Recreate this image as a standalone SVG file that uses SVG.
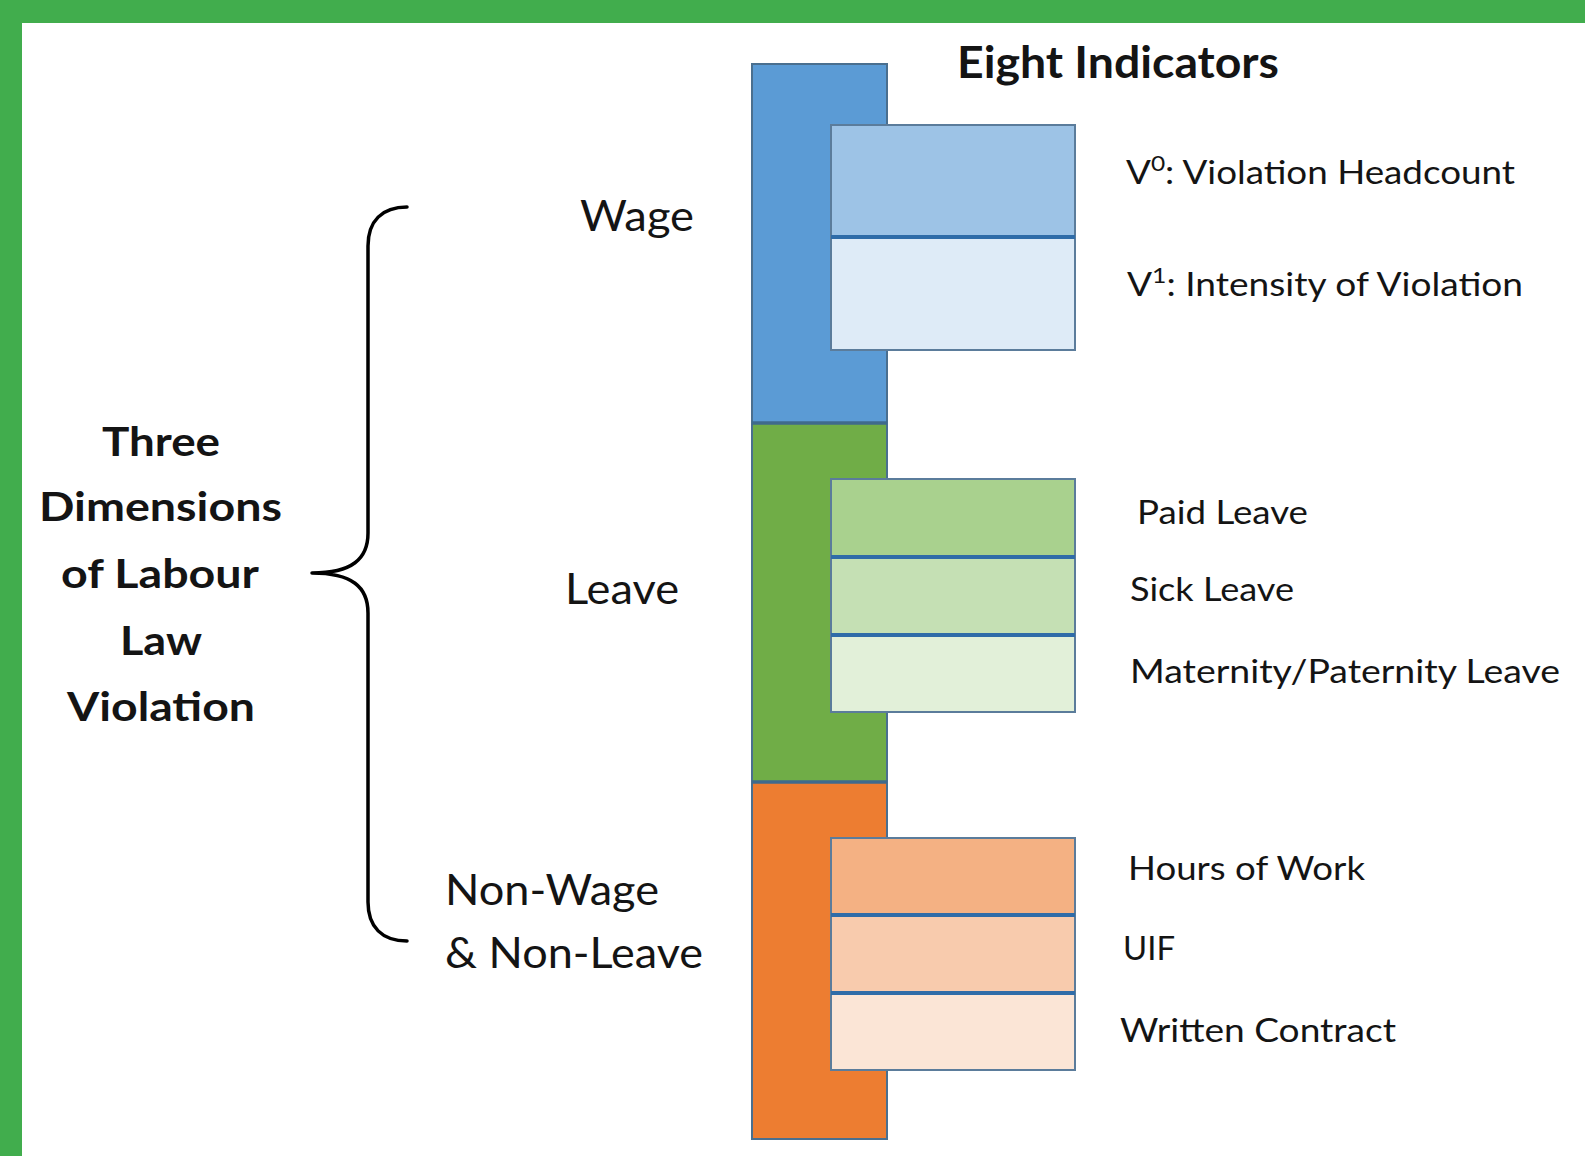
<svg xmlns="http://www.w3.org/2000/svg" width="1585" height="1156" viewBox="0 0 1585 1156">
  <style>
    .frame { fill: #41AD4D; }
    .page { fill: #FFFFFF; }
    .bar { stroke: #4A6F8F; stroke-width: 2; }
    .box { stroke: #5B7C9B; stroke-width: 2; }
    .divider { stroke: #2F6CA8; stroke-width: 4; }
    .seam { stroke: #3F6A8C; stroke-width: 3.5; }
    .brace { fill: none; stroke: #000000; stroke-width: 3.5; stroke-linecap: round; stroke-linejoin: round; }
    text { fill: #141414; font-family: Lato, "Liberation Sans", sans-serif; }
    .heading { font-weight: 700; font-size: 41px; }
    .title { font-weight: 700; font-size: 43px; }
    .dim { font-size: 42px; }
    .ind { font-size: 33px; }
  </style>

  <!-- green frame on the top and left edges -->
  <rect class="frame" x="0" y="0" width="1585" height="1156"/>
  <rect class="page" x="22" y="23" width="1563" height="1133"/>

  <!-- heading on the left -->
  <g id="heading">
    <text class="heading" x="102" y="456" textLength="118" lengthAdjust="spacingAndGlyphs">Three</text>
    <text class="heading" x="39" y="521" textLength="243" lengthAdjust="spacingAndGlyphs">Dimensions</text>
    <text class="heading" x="61" y="588" textLength="198" lengthAdjust="spacingAndGlyphs">of Labour</text>
    <text class="heading" x="120" y="655" textLength="82" lengthAdjust="spacingAndGlyphs">Law</text>
    <text class="heading" x="67" y="721" textLength="188" lengthAdjust="spacingAndGlyphs">Violation</text>
  </g>

  <!-- title above the indicators -->
  <g id="title">
    <text class="title" x="957" y="78" textLength="322" lengthAdjust="spacingAndGlyphs">Eight Indicators</text>
  </g>

  <!-- the three dimensions: stacked column segments -->
  <g id="dim-wage">
    <rect class="bar" x="752" y="64" width="135" height="359" fill="#5B9BD5"/>
    <text class="dim" x="580" y="231" textLength="114" lengthAdjust="spacingAndGlyphs">Wage</text>
  </g>
  <g id="dim-leave">
    <rect class="bar" x="752" y="423" width="135" height="359" fill="#70AD47"/>
    <text class="dim" x="565" y="604" textLength="114" lengthAdjust="spacingAndGlyphs">Leave</text>
  </g>
  <g id="dim-nonwage">
    <rect class="bar" x="752" y="782" width="135" height="357" fill="#ED7D31"/>
    <text class="dim" x="445" y="905" textLength="214" lengthAdjust="spacingAndGlyphs">Non-Wage</text>
    <text class="dim" x="445" y="968" textLength="258" lengthAdjust="spacingAndGlyphs">&amp; Non-Leave</text>
  </g>
  <!-- seams between the column segments -->
  <line class="seam" x1="752" y1="423" x2="887" y2="423"/>
  <line class="seam" x1="752" y1="782" x2="887" y2="782"/>

  <!-- wage indicators -->
  <g id="ind-headcount">
    <rect class="box" x="831" y="125" width="244" height="112" fill="#9DC3E6"/>
    <text class="ind" x="1126" y="184" textLength="389" lengthAdjust="spacingAndGlyphs">V<tspan font-size="22" dy="-13">0</tspan><tspan dy="13">: Violation Headcount</tspan></text>
  </g>
  <g id="ind-intensity">
    <rect class="box" x="831" y="237" width="244" height="113" fill="#DEEBF7"/>
    <line class="divider" x1="831" y1="237" x2="1075" y2="237"/>
    <text class="ind" x="1127" y="296" textLength="396" lengthAdjust="spacingAndGlyphs">V<tspan font-size="22" dy="-13">1</tspan><tspan dy="13">: Intensity of Violation</tspan></text>
  </g>

  <!-- leave indicators -->
  <g id="ind-paid">
    <rect class="box" x="831" y="479" width="244" height="78" fill="#A9D18E"/>
    <text class="ind" x="1137" y="524" textLength="171" lengthAdjust="spacingAndGlyphs">Paid Leave</text>
  </g>
  <g id="ind-sick">
    <rect class="box" x="831" y="557" width="244" height="78" fill="#C5E0B4"/>
    <line class="divider" x1="831" y1="557" x2="1075" y2="557"/>
    <text class="ind" x="1130" y="601" textLength="164" lengthAdjust="spacingAndGlyphs">Sick Leave</text>
  </g>
  <g id="ind-parental">
    <rect class="box" x="831" y="635" width="244" height="77" fill="#E2F0D9"/>
    <line class="divider" x1="831" y1="635" x2="1075" y2="635"/>
    <text class="ind" x="1130" y="683" textLength="430" lengthAdjust="spacingAndGlyphs">Maternity/Paternity Leave</text>
  </g>

  <!-- non-wage, non-leave indicators -->
  <g id="ind-hours">
    <rect class="box" x="831" y="838" width="244" height="77" fill="#F4B183"/>
    <text class="ind" x="1128" y="880" textLength="237" lengthAdjust="spacingAndGlyphs">Hours of Work</text>
  </g>
  <g id="ind-uif">
    <rect class="box" x="831" y="915" width="244" height="78" fill="#F8CBAD"/>
    <line class="divider" x1="831" y1="915" x2="1075" y2="915"/>
    <text class="ind" x="1123" y="960" textLength="52" lengthAdjust="spacingAndGlyphs">UIF</text>
  </g>
  <g id="ind-contract">
    <rect class="box" x="831" y="993" width="244" height="77" fill="#FBE5D6"/>
    <line class="divider" x1="831" y1="993" x2="1075" y2="993" stroke="#3C5870"/>
    <text class="ind" x="1120" y="1042" textLength="276" lengthAdjust="spacingAndGlyphs">Written Contract</text>
  </g>

  <!-- curly brace joining the heading to the three dimensions -->
  <g id="connectors">
    <path class="brace" d="M407,207 C382,207 368,221 368,246 L368,533 C368,559 352,573 312,573 C352,573 368,587 368,613 L368,902 C368,927 382,941 407,941"/>
  </g>
</svg>
